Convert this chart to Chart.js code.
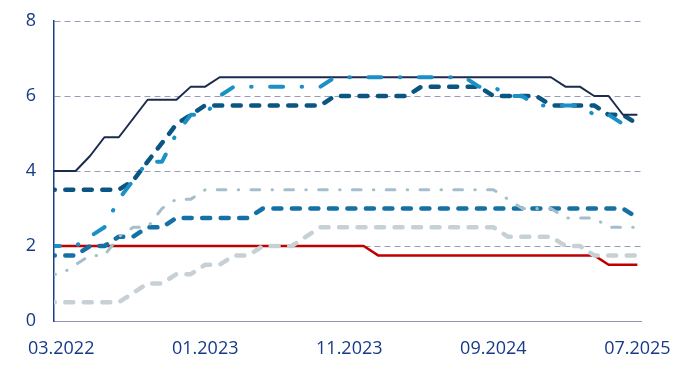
<!DOCTYPE html>
<html>
<head>
<meta charset="utf-8">
<script src="https://cdn.jsdelivr.net/npm/chart.js@4"></script>
<style>
html,body{margin:0;padding:0;background:#fff;}
#wrap{width:692px;height:366px;position:relative;}
</style>
</head>
<body>
<div id="wrap"><canvas id="c"></canvas></div>
<script>
// Categories (monthly, end of month)
const months = [
  '02.2022','03.2022','04.2022','05.2022','06.2022','07.2022','08.2022','09.2022','10.2022','11.2022','12.2022',
  '01.2023','02.2023','03.2023','04.2023','05.2023','06.2023','07.2023','08.2023','09.2023','10.2023','11.2023','12.2023',
  '01.2024','02.2024','03.2024','04.2024','05.2024','06.2024','07.2024','08.2024','09.2024','10.2024','11.2024','12.2024',
  '01.2025','02.2025','03.2025','04.2025','05.2025','06.2025','07.2025'
];
const xTickLabels = ['03.2022','01.2023','11.2023','09.2024','07.2025'];
const yTickValues = [0, 2, 4, 6, 8];

// Series values (one per month above)
const navySolid = [4,4,4,4.4,4.9,4.9,5.4,5.9,5.9,5.9,6.25,6.25,
  6.5,6.5,6.5,6.5,6.5,6.5,6.5,6.5,6.5,6.5,6.5,6.5,6.5,6.5,6.5,6.5,6.5,6.5,6.5,6.5,6.5,6.5,6.5,6.5,
  6.25,6.25,6,6,5.5,5.5];
const darkDashed = [3.5,3.5,3.5,3.5,3.5,3.5,3.75,4.25,4.75,5.25,5.5,
  5.75,5.75,5.75,5.75,5.75,5.75,5.75,5.75,5.75,
  6,6,6,6,6,6,6.25,6.25,6.25,6.25,6.25,6,6,6,6,5.75,5.75,5.75,5.75,5.5,5.5,5.25];
const brightDashDot = [2,2,2,2.25,2.5,3.25,3.75,4.25,4.25,5,5.5,5.5,6,
  6.25,6.25,6.25,6.25,6.25,6.25,6.25,
  6.5,6.5,6.5,6.5,6.5,6.5,6.5,6.5,6.5,6.5,
  6.25,6.25,6,6,5.75,5.75,5.75,5.75,5.5,5.5,5.25,5.25];
const midDashed = [1.75,1.75,1.75,2,2,2.25,2.25,2.5,2.5,2.75,2.75,2.75,2.75,2.75,2.75,
  3,3,3,3,3,3,3,3,3,3,3,3,3,3,3,3,3,3,3,3,3,3,3,3,3,3,2.75];
const lightDashDot = [1.25,1.25,1.5,1.75,1.75,2.25,2.5,2.5,3,3.25,3.25,
  3.5,3.5,3.5,3.5,3.5,3.5,3.5,3.5,3.5,3.5,3.5,3.5,3.5,3.5,3.5,3.5,3.5,3.5,3.5,3.5,3.5,
  3.25,3,3,3,2.75,2.75,2.75,2.5,2.5,2.5];
const greyDashed = [0.5,0.5,0.5,0.5,0.5,0.5,0.75,1,1,1.25,1.25,1.5,1.5,1.75,1.75,2,2,2,2.25,
  2.5,2.5,2.5,2.5,2.5,2.5,2.5,2.5,2.5,2.5,2.5,2.5,2.5,
  2.25,2.25,2.25,2.25,2,2,1.75,1.75,1.75,1.75];
const redSolid = [2,2,2,2,2,2,2,2,2,2,2,2,2,2,2,2,2,2,2,2,2,2,2,
  1.75,1.75,1.75,1.75,1.75,1.75,1.75,1.75,1.75,1.75,1.75,1.75,1.75,1.75,1.75,1.75,
  1.5,1.5,1.5];

const pts = arr => arr.map((v, k) => ({x: k, y: v}));
const tickIdx = xTickLabels.map(l => months.indexOf(l));

const FONT = {family: "'Open Sans', 'Noto Sans', sans-serif", size: 18};
const TICK_COLOR = '#173a88';

const ds = (data, color, width, dash) => ({
  data: pts(data), borderColor: color, borderWidth: width, borderDash: dash || [],
  borderCapStyle: dash ? 'round' : 'butt', borderJoinStyle: 'round',
  pointRadius: 0, tension: 0, fill: false
});

new Chart(document.getElementById('c'), {
  type: 'line',
  data: {
    datasets: [
      ds(brightDashDot, '#1a90c4', 4, [13, 18.5, 0.5, 18.5]),
      ds(navySolid, '#1b2a4e', 2),
      ds(lightDashDot, '#a2bfcb', 3, [8.7, 12.3, 0.5, 12.3]),
      ds(darkDashed, '#0b5583', 4.5, [8, 10.5]),
      ds(midDashed, '#1570a6', 4.5, [8, 10.5]),
      ds(greyDashed, '#c7d1d5', 4.5, [8, 10.5]),
      ds(redSolid, '#c00000', 2.5)
    ]
  },
  options: {
    responsive: true,
    maintainAspectRatio: false,
    animation: false,
    layout: {padding: {top: 21, right: 51, left: 0, bottom: 0}},
    plugins: {legend: {display: false}, tooltip: {enabled: false}},
    scales: {
      x: {
        type: 'linear',
        min: 0.5,
        max: 41.25,
        grid: {display: false},
        border: {display: true, color: '#8f92b2', width: 1},
        afterBuildTicks: s => { s.ticks = tickIdx.map(v => ({value: v})); },
        afterFit: s => { s.height = 45; },
        ticks: {
          color: TICK_COLOR, font: FONT, padding: 9, maxRotation: 0, autoSkip: false,
          callback: v => months[v]
        }
      },
      y: {
        min: 0, max: 8,
        afterBuildTicks: s => { s.ticks = yTickValues.map(v => ({value: v})); },
        afterFit: s => { s.width = 54; },
        grid: {
          drawTicks: true,
          tickLength: 18,
          tickColor: 'rgba(0,0,0,0)',
          color: c => (c.tick && c.tick.value === 0) ? 'rgba(0,0,0,0)' : '#9a9ab8',
          lineWidth: 1
        },
        border: {display: true, color: '#1d3e8c', width: 1.5, dash: [6, 4]},
        ticks: {color: TICK_COLOR, font: FONT, padding: 0}
      }
    }
  }
});
</script>
</body>
</html>
